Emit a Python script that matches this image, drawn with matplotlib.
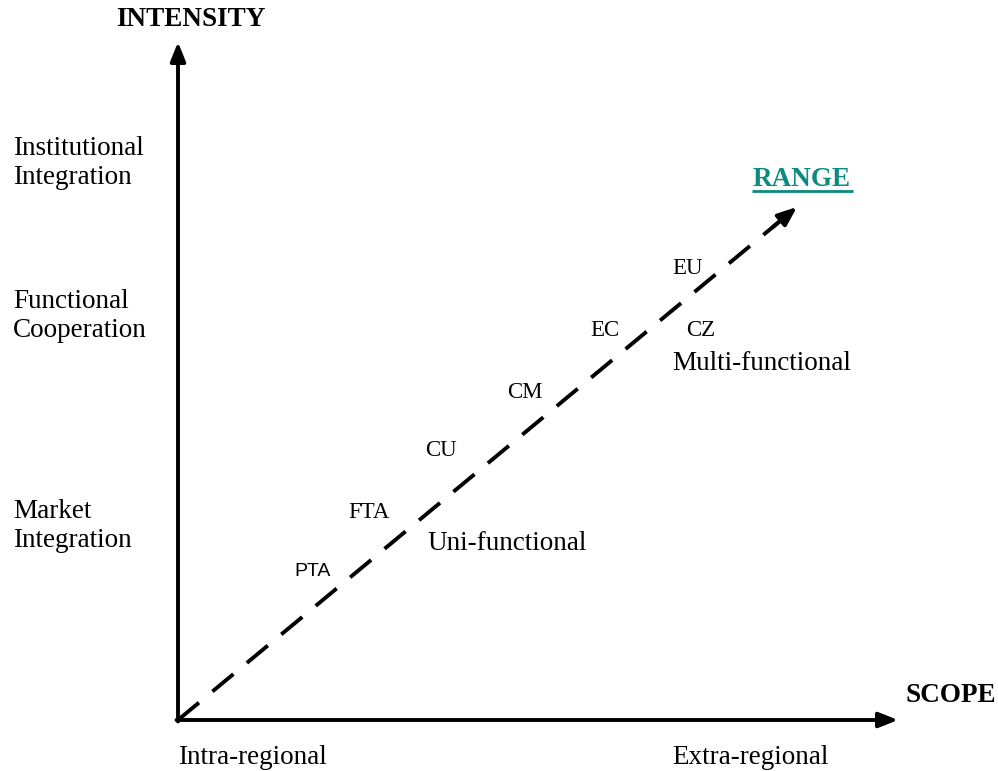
import matplotlib
matplotlib.use("Agg")
import matplotlib.pyplot as plt

W, H = 998, 771
SERIF = ["Liberation Serif", "DejaVu Serif"]
SANS = ["Liberation Sans", "DejaVu Sans"]

# axis geometry (pixel space)
origin = (178, 720)
y_axis_top = (178, 42)
x_axis_end = (898, 720)
range_tip = (797, 207)

# level labels on the intensity axis
level_labels = ["Institutional\nIntegration", "Functional\nCooperation", "Market\nIntegration"]
level_y = [163, 316, 526]

# integration stages along the range
stage_labels = ["PTA", "FTA", "CU", "CM", "EC", "EU", "CZ"]
stage_x = [294, 348, 425, 507, 590, 672, 686]
stage_y = [571, 512, 450, 392, 331, 269, 331]

# scope labels
scope_labels = ["Intra-regional", "Extra-regional"]
scope_x = [178, 672]

fig = plt.figure(figsize=(W / 100, H / 100), dpi=100)
ax = fig.add_axes([0, 0, 1, 1])
ax.set_xlim(0, W)
ax.set_ylim(H, 0)
ax.axis("off")

arrow_kw = dict(arrowstyle="-|>,head_length=0.95,head_width=0.38", color="black",
                lw=2.8, mutation_scale=12, shrinkA=0, shrinkB=0)
ax.annotate("", xy=y_axis_top, xytext=(origin[0], origin[1] + 1.5), arrowprops=arrow_kw)
ax.annotate("", xy=x_axis_end, xytext=(origin[0] - 1.5, origin[1]), arrowprops=arrow_kw)

# dashed range line
dx = range_tip[0] - origin[0]
dy = range_tip[1] - origin[1]
f = 0.975
ax.plot([origin[0], origin[0] + f * dx], [origin[1], origin[1] + f * dy],
        color="black", lw=2.8, linestyle=(0, (7, 4.5)), solid_capstyle="butt")
ax.annotate("", xy=range_tip, xytext=(origin[0] + 0.96 * dx, origin[1] + 0.96 * dy),
            arrowprops=arrow_kw)

# titles
ax.text(191, 20, "INTENSITY", family=SERIF, fontsize=19.5, fontweight="bold",
        ha="center", va="center")
ax.text(906, 695, "SCOPE", family=SERIF, fontsize=19.5, fontweight="bold",
        ha="left", va="center")
ax.text(753, 180, "RANGE", family=SERIF, fontsize=19.5, fontweight="bold",
        ha="left", va="center", color="#0b8a80")
ax.plot([752, 853], [191, 191], color="#0b8a80", lw=2, solid_capstyle="butt")

for lab, yy in zip(level_labels, level_y):
    ax.text(13, yy, lab, family=SERIF, fontsize=19.5, ha="left", va="center",
            linespacing=1.18)

for lab, xx, yy in zip(stage_labels, stage_x, stage_y):
    fam = SANS if lab == "PTA" else SERIF
    fs = 14 if lab == "PTA" else 16.5
    ax.text(xx, yy, lab, family=fam, fontsize=fs, ha="left", va="center")

ax.text(672, 363, "Multi-functional", family=SERIF, fontsize=19.5, ha="left", va="center")
ax.text(427, 543, "Uni-functional", family=SERIF, fontsize=19.5, ha="left", va="center")

for lab, xx in zip(scope_labels, scope_x):
    ax.text(xx, 758, lab, family=SERIF, fontsize=19.5, ha="left", va="center")

fig.savefig("out.png", dpi=100)
